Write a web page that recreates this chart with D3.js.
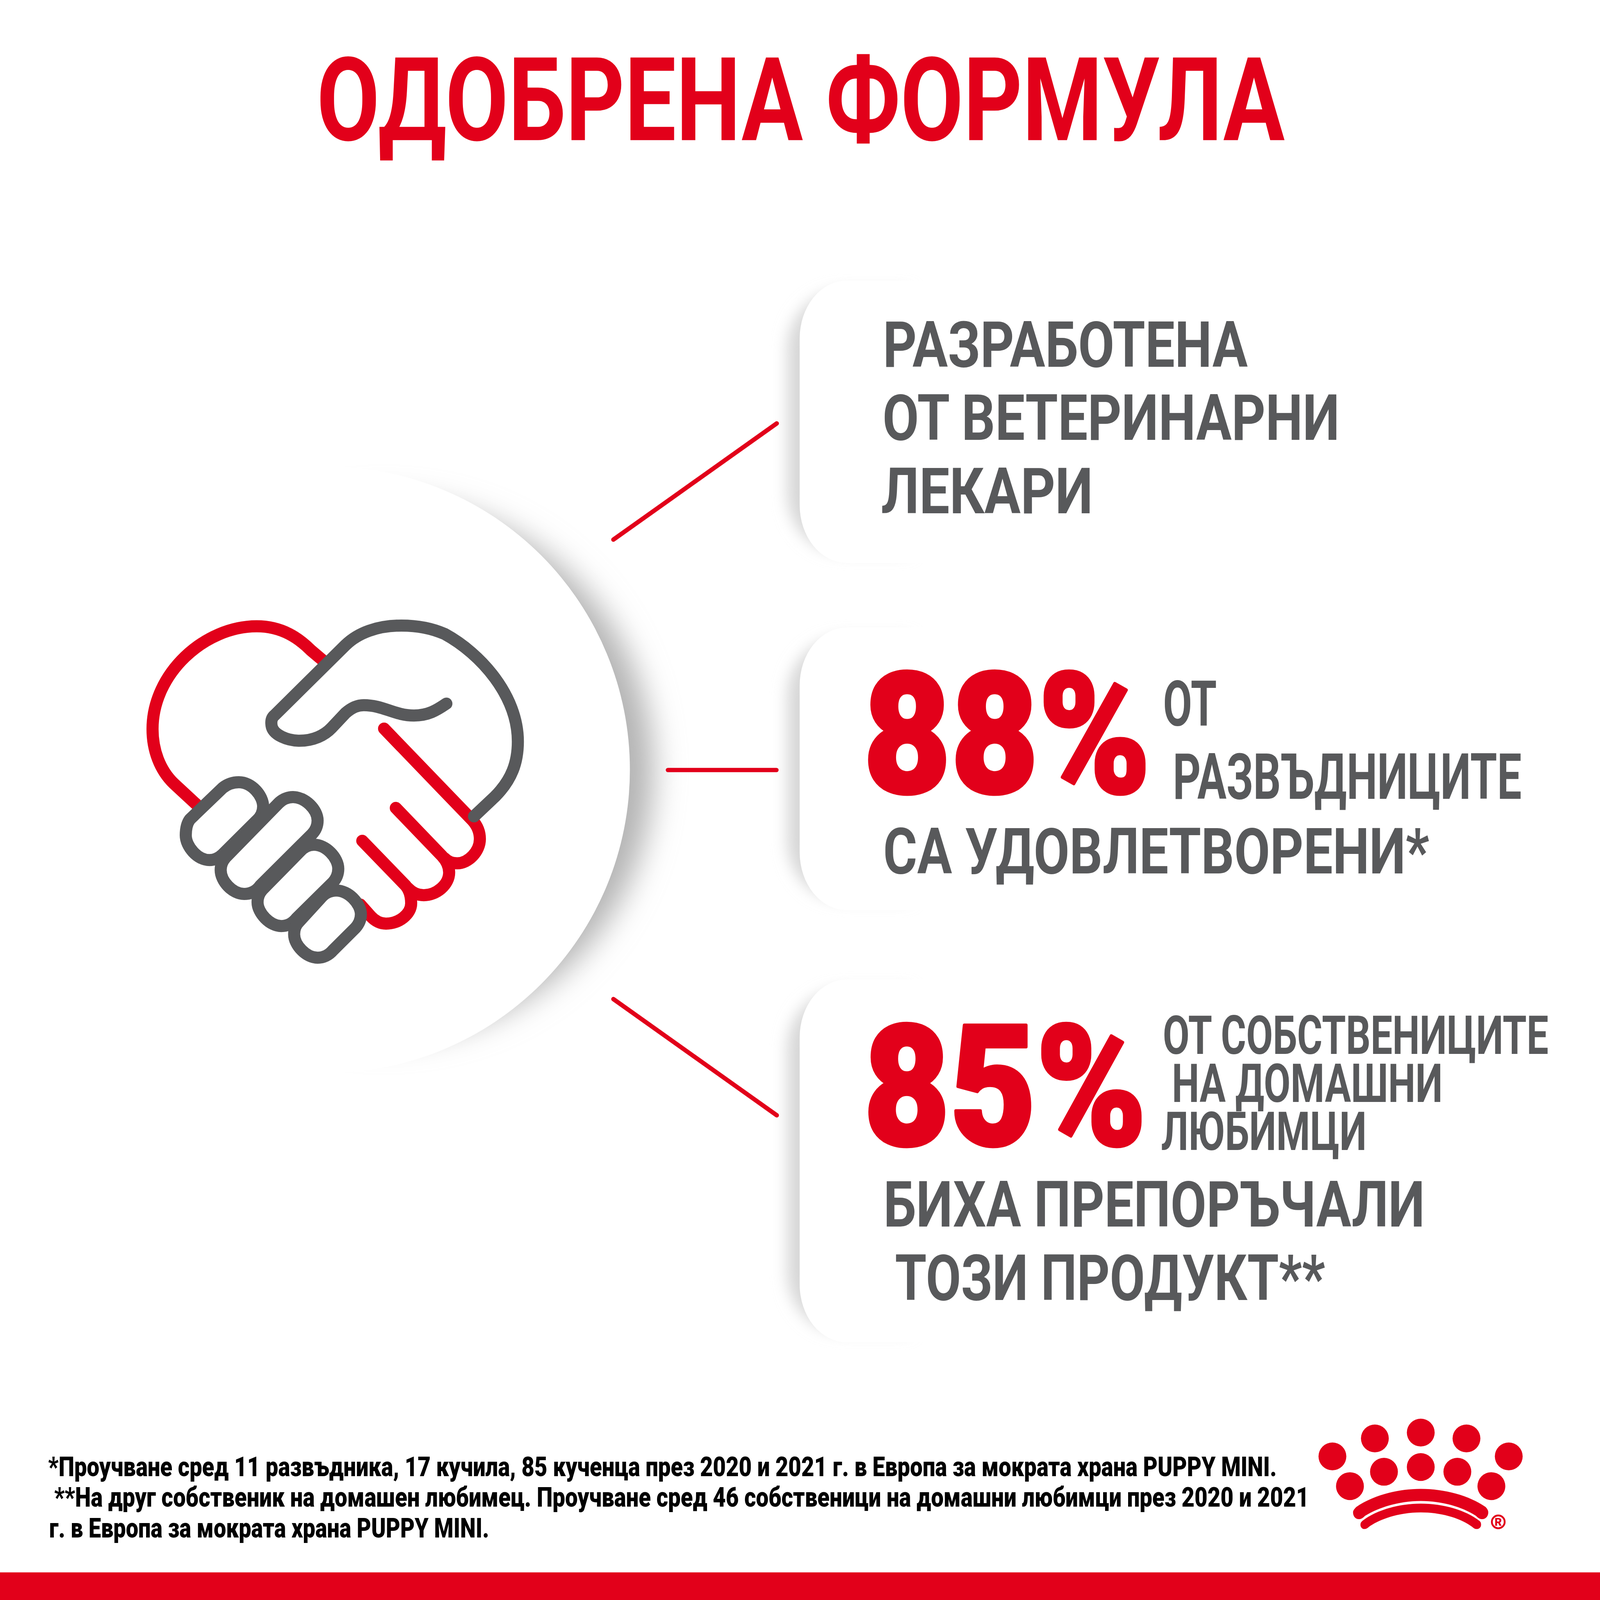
<!DOCTYPE html>
<html lang="bg"><head><meta charset="utf-8">
<style>html,body{margin:0;padding:0;background:#fff;overflow:hidden}svg{display:block;width:100vw;height:100vh}</style>
<script src="https://cdnjs.cloudflare.com/ajax/libs/d3/7.8.5/d3.min.js"></script>
</head><body>
<script>
const titleText = "ОДОБРЕНА ФОРМУЛА";
const percentValues = [88, 85];
const panelOneLines = ["РАЗРАБОТЕНА", "ОТ ВЕТЕРИНАРНИ", "ЛЕКАРИ"];
const panelTwoLines = ["ОТ", "РАЗВЪДНИЦИТЕ", "СА УДОВЛЕТВОРЕНИ*"];
const panelThreeSmallLines = ["ОТ СОБСТВЕНИЦИТЕ", "НА ДОМАШНИ", "ЛЮБИМЦИ"];
const panelThreeLines = ["БИХА ПРЕПОРЪЧАЛИ", "ТОЗИ ПРОДУКТ**"];
const footnoteLines = [
  "*Проучване сред 11 развъдника, 17 кучила, 85 кученца през 2020 и 2021 г. в Европа за мократа храна PUPPY MINI.",
  "**На друг собственик на домашен любимец. Проучване сред 46 собственици на домашни любимци през 2020 и 2021",
  "г. в Европа за мократа храна PUPPY MINI."
];
const W = 4750, RED = "#e2001a", GRAY = "#58595b";
const FONT = "Roboto, sans-serif";
const panelBoxes = [[833,1671],[1863,2702],[2908,3985]];
const connectors = [[1821,1602,2306,1257],[1983,2286,2305,2286],[1821,2966,2306,3311]];
const textRows = [
  {t:panelOneLines[0],x:2621,x2:3704,y:1089,s:190,w:700},
  {t:panelOneLines[1],x:2620,x2:3977,y:1306,s:190,w:700},
  {t:panelOneLines[2],x:2616,x2:3245,y:1524,s:190,w:700},
  {t:panelTwoLines[0],x:3453,x2:3612,y:2154,s:188,w:700},
  {t:panelTwoLines[1],x:3482,x2:4517,y:2372,s:190,w:700},
  {t:panelTwoLines[2],x:2622,x2:4243,y:2593,s:190,w:700},
  {t:panelThreeSmallLines[0],x:3452,x2:4597,y:3129,s:160,w:700},
  {t:panelThreeSmallLines[1],x:3479,x2:4283,y:3271,s:160,w:700},
  {t:panelThreeSmallLines[2],x:3447,x2:4057,y:3414,s:160,w:700},
  {t:panelThreeLines[0],x:2623,x2:4230,y:3641,s:190,w:700},
  {t:panelThreeLines[1],x:2657,x2:3934,y:3859,s:190,w:700}
];
const redRows = [
  {t:titleText,x:940,x2:3814,y:416,s:345,w:700,b:0},
  {t:percentValues[0]+"%",x:2563,x2:3416,y:2353,s:500,w:900,b:10},
  {t:percentValues[1]+"%",x:2564,x2:3404,y:3399,s:500,w:900,b:10}
];
const footRows = [
  {t:footnoteLines[0],x:143,x2:3790,y:4382,s:82,w:900},
  {t:footnoteLines[1],x:161,x2:3886,y:4473,s:82,w:900},
  {t:footnoteLines[2],x:146,x2:1452,y:4564,s:82,w:900}
];

const svg = d3.select("body").append("svg").attr("viewBox",`0 0 ${W} ${W}`).attr("preserveAspectRatio","none");
svg.append("rect").attr("width",W).attr("height",W).attr("fill","#fff");

const defs = svg.append("defs");
defs.append("filter").attr("id","blurBig").attr("x","-30%").attr("y","-30%").attr("width","160%").attr("height","160%")
  .append("feGaussianBlur").attr("stdDeviation",45);
defs.append("filter").attr("id","blurSmall").attr("x","-30%").attr("y","-30%").attr("width","160%").attr("height","160%")
  .append("feGaussianBlur").attr("stdDeviation",22);

svg.append("circle").attr("cx",1140).attr("cy",2285).attr("r",800).attr("fill","#b4b4b4").attr("filter","url(#blurBig)");
svg.append("circle").attr("cx",970).attr("cy",2285).attr("r",900).attr("fill","#fff");

const panelPath = (x,t,b,rx,ry,right) =>
  `M${right},${t}H${x+rx}A${rx},${ry} 0 0 0 ${x},${t+ry}V${b-ry}A${rx},${ry} 0 0 0 ${x+rx},${b}H${right}Z`;
svg.selectAll("path.pshadow").data(panelBoxes).join("path").attr("class","pshadow")
  .attr("d",d=>panelPath(2338,d[0]+30,d[1]-30,170,175,2700))
  .attr("fill","#d6d6d6").attr("filter","url(#blurSmall)");
svg.selectAll("path.panel").data(panelBoxes).join("path").attr("class","panel")
  .attr("d",d=>panelPath(2374,d[0],d[1],140,172,4700)).attr("fill","#fff");

svg.selectAll("line.conn").data(connectors).join("line").attr("class","conn")
  .attr("x1",d=>d[0]).attr("y1",d=>d[1]).attr("x2",d=>d[2]).attr("y2",d=>d[3])
  .attr("stroke",RED).attr("stroke-width",13).attr("stroke-linecap","round");

const icon = svg.append("g").attr("transform","translate(350,1750) scale(0.8292,0.7337)")
  .attr("fill","none").attr("stroke-linecap","round").attr("stroke-linejoin","round");
const iconRed = [
  "M288,877 L200,785 C150,730 124,650 124,565 C124,340 310,149 497,149 C590,149 650,200 690,245 L737,290",
  "M868,1275 L905,1322 C918,1338 935,1352 960,1352 C1005,1352 1050,1315 1050,1270 C1050,1245 1045,1218 1030,1198 L875,1017",
  "M995,884 L1160,1078 C1178,1100 1186,1125 1186,1145 C1186,1195 1140,1237 1095,1237 C1075,1237 1055,1228 1040,1210",
  "M953,563 L1270,935 C1290,960 1296,985 1296,1010 C1296,1060 1255,1108 1215,1108 C1195,1108 1180,1100 1170,1088"
];
const iconGrayLine = "M1275,918 L1350,838 C1410,770 1432,700 1432,615 C1432,430 1300,260 1170,180 C1120,155 1070,146 1015,146 C930,146 860,175 815,225 L560,510 C545,525 550,545 550,550 C555,590 610,612 650,612 C700,612 740,590 765,560 L815,500 C840,475 860,468 880,468 C950,468 990,510 1060,510 C1110,510 1140,490 1176,462";
const iconFingers = [
  "M258,930 L375,803 C395,785 415,780 433,780 C480,780 520,835 520,878 C520,900 512,920 497,935 L375,1072 C360,1088 345,1095 328,1095 C285,1095 243,1040 243,995 C243,970 248,945 258,930 Z",
  "M385,1085 L575,865 C590,848 610,840 627,840 C670,840 715,890 715,935 C715,955 708,975 695,990 L510,1198 C495,1222 475,1232 452,1232 C410,1232 368,1180 368,1135 C368,1115 375,1098 385,1085 Z",
  "M517,1215 L650,1062 C665,1042 685,1033 702,1033 C745,1033 789,1085 789,1130 C789,1150 782,1170 770,1185 L640,1330 C625,1352 605,1362 585,1362 C545,1362 500,1310 500,1265 C500,1245 505,1230 517,1215 Z",
  "M648,1345 L725,1250 C740,1228 760,1218 782,1218 C825,1218 870,1270 870,1315 C870,1335 862,1355 850,1370 L770,1460 C755,1480 735,1490 715,1490 C675,1490 631,1440 631,1395 C631,1375 636,1358 648,1345 Z"
];
icon.selectAll("path.r").data(iconRed).join("path").attr("class","r").attr("d",d=>d)
  .attr("stroke",RED).attr("stroke-width",31).attr("vector-effect","non-scaling-stroke");
icon.append("path").attr("d",iconGrayLine).attr("stroke",GRAY).attr("stroke-width",31).attr("vector-effect","non-scaling-stroke");
icon.selectAll("path.f").data(iconFingers).join("path").attr("class","f").attr("d",d=>d)
  .attr("fill","#fff").attr("stroke",GRAY).attr("stroke-width",31).attr("vector-effect","non-scaling-stroke");

function drawRows(rows, fill, cls){
  svg.selectAll("text."+cls).data(rows).join("text").attr("class",cls)
    .attr("font-family",FONT).attr("font-size",d=>d.s).attr("font-weight",d=>d.w).attr("fill",fill)
    .attr("stroke",d=>d.b?fill:"none").attr("stroke-width",d=>d.b||0).attr("stroke-linejoin","round")
    .text(d=>d.t)
    .attr("transform",function(d){
      const k=(d.x2-d.x)/this.getComputedTextLength();
      return `translate(${d.x},${d.y}) scale(${k},1)`;
    });
}
function drawAll(){
  drawRows(redRows, RED, "red");
  drawRows(textRows, GRAY, "gray");
  drawRows(footRows, "#000", "foot");
}
drawAll();
if(document.fonts&&document.fonts.ready) document.fonts.ready.then(drawAll);

const logo = svg.append("g").attr("transform","translate(3800,4150) scale(0.5102,0.3333)").attr("fill",RED);
const pawDots = [[305,521],[552,361],[819,309],[1085,361],[1331,521],[407,786],[605,658],[819,616],[1032,658],[1230,786]];
logo.selectAll("ellipse").data(pawDots).join("ellipse").attr("cx",d=>d[0]).attr("cy",d=>d[1]).attr("rx",81).attr("ry",124);
logo.append("path").attr("d","M425,1020 C425,1000 435,985 445,970 C540,870 680,810 819,810 C960,810 1100,870 1195,970 C1205,985 1212,1000 1212,1020 C1212,1055 1195,1080 1178,1080 C1160,1080 1150,1065 1140,1050 C1060,970 940,918 819,918 C700,918 580,970 495,1050 C485,1065 475,1080 458,1080 C440,1080 425,1055 425,1020 Z");
logo.append("path").attr("d","M468,1130 C468,1115 472,1105 480,1095 C560,1000 690,942 819,942 C950,942 1080,1000 1160,1095 C1168,1105 1170,1115 1170,1130 C1170,1150 1160,1168 1145,1168 C1130,1168 1125,1155 1110,1140 C1040,1065 930,1020 819,1020 C710,1020 600,1065 525,1140 C512,1155 505,1168 490,1168 C478,1168 468,1150 468,1130 Z");
svg.append("circle").attr("cx",4448).attr("cy",4518).attr("r",19).attr("fill","none").attr("stroke",RED).attr("stroke-width",5.5);
svg.append("text").attr("x",4448).attr("y",4530).attr("text-anchor","middle").attr("font-family",FONT)
  .attr("font-weight",900).attr("font-size",33).attr("fill",RED).text("R");

svg.append("rect").attr("x",0).attr("y",4668).attr("width",W).attr("height",82).attr("fill",RED);
</script>
</body></html>
